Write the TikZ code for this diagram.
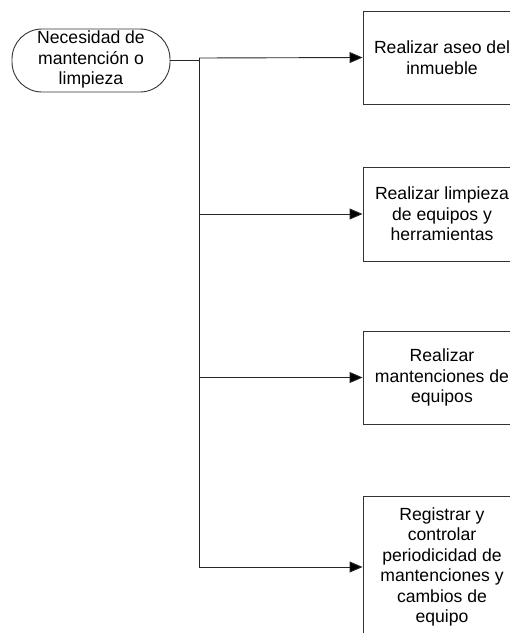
\documentclass[tikz,border=0pt]{standalone}
\usepackage{fontspec}
\setmainfont{Liberation Sans}
\usetikzlibrary{arrows.meta}
\begin{document}
\begin{tikzpicture}[x=1pt,y=-1pt,
  lbl/.style={font=\fontsize{17.6}{20.5}\selectfont, align=center, text=black, inner sep=0pt},
  procbox/.style={draw=black!80, line width=0.9pt, minimum width=158pt, inner sep=0pt},
  term/.style={draw=black!80, line width=0.9pt, minimum width=158pt, minimum height=63pt, rounded corners=30pt, inner sep=0pt},
  link/.style={draw=black!85, line width=0.9pt},
  arr/.style={link, -{Triangle[length=13pt,width=11pt,fill=black]}}]
\useasboundingbox (0,0) rectangle (510,633);
\clip (0,0) rectangle (510,633);
\node[term] (t) at (91,60.5) {};
\node[lbl] at (91,59.5) {Necesidad de\\mantención o\\limpieza};
\node[procbox, minimum height=93pt] (b1) at (442,57.5) {};
\node[lbl] at (442,57.5) {Realizar aseo del\\inmueble};
\node[procbox, minimum height=94pt] (b2) at (442,214) {};
\node[lbl] at (442,214) {Realizar limpieza\\de equipos y\\herramientas};
\node[procbox, minimum height=93pt] (b3) at (442,377.5) {};
\node[lbl] at (442,377.5) {Realizar\\mantenciones de\\equipos};
\node[procbox, minimum height=142pt] (b4) at (442,567) {};
\node[lbl] at (442,567) {Registrar y\\controlar\\periodicidad de\\mantenciones y\\cambios de\\equipo};
\coordinate (j0) at (199,58);
\coordinate (j3) at (199,567);
\draw[link, line width=1.6pt] (t.east) -- (j0 |- t.east);
\draw[link] (j0) -- (j3);
\draw[arr] (j0) -- (b1.west);
\draw[arr] (j0 |- b2.west) -- (b2.west);
\draw[arr] (j0 |- b3.west) -- (b3.west);
\draw[arr] (j3) -- (b4.west);
\end{tikzpicture}
\end{document}
